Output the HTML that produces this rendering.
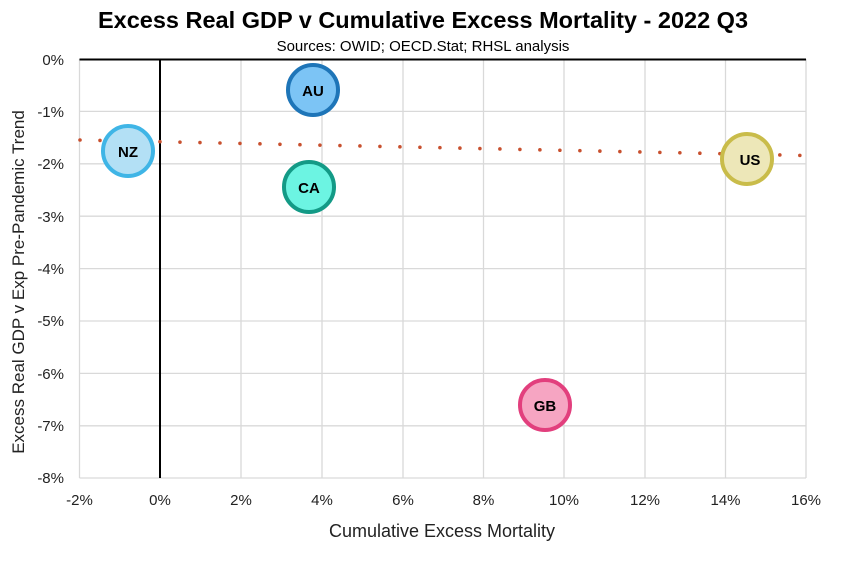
<!DOCTYPE html>
<html><head><meta charset="utf-8"><style>
body{margin:0;background:#fff;}
svg{display:block;font-family:"Liberation Sans",sans-serif;}
</style></head><body>
<svg width="860" height="561" viewBox="0 0 860 561">
<rect width="860" height="561" fill="#fff"/>
<text x="423" y="28" text-anchor="middle" font-size="23.5" font-weight="bold">Excess Real GDP v Cumulative Excess Mortality - 2022 Q3</text>
<text x="423" y="51" text-anchor="middle" font-size="15">Sources: OWID; OECD.Stat; RHSL analysis</text>
<g stroke="#d9d9d9" stroke-width="1.3">
<line x1="79.5" y1="111.4" x2="806" y2="111.4"/><line x1="79.5" y1="163.8" x2="806" y2="163.8"/>
<line x1="79.5" y1="216.2" x2="806" y2="216.2"/><line x1="79.5" y1="268.6" x2="806" y2="268.6"/>
<line x1="79.5" y1="321" x2="806" y2="321"/><line x1="79.5" y1="373.4" x2="806" y2="373.4"/>
<line x1="79.5" y1="425.8" x2="806" y2="425.8"/><line x1="79.5" y1="478" x2="806" y2="478"/>
<line x1="79.5" y1="59" x2="79.5" y2="478"/>
<line x1="241" y1="59" x2="241" y2="478"/><line x1="322" y1="59" x2="322" y2="478"/>
<line x1="403" y1="59" x2="403" y2="478"/><line x1="483.5" y1="59" x2="483.5" y2="478"/>
<line x1="564" y1="59" x2="564" y2="478"/><line x1="645" y1="59" x2="645" y2="478"/>
<line x1="725.5" y1="59" x2="725.5" y2="478"/><line x1="806" y1="59" x2="806" y2="478"/>
</g>
<line x1="79.5" y1="59.5" x2="806" y2="59.5" stroke="#000" stroke-width="2"/>
<line x1="160" y1="59" x2="160" y2="478" stroke="#000" stroke-width="2"/>
<line x1="80" y1="140" x2="806" y2="155.5" stroke="#c8502e" stroke-width="3.6" stroke-linecap="round" stroke-dasharray="0 20"/>
<g font-size="15" fill="#222" text-anchor="end">
<text x="64" y="65">0%</text><text x="64" y="117">-1%</text><text x="64" y="169">-2%</text>
<text x="64" y="222">-3%</text><text x="64" y="274">-4%</text><text x="64" y="326">-5%</text>
<text x="64" y="379">-6%</text><text x="64" y="431">-7%</text><text x="64" y="483">-8%</text>
</g>
<g font-size="15" fill="#222" text-anchor="middle">
<text x="79.5" y="505">-2%</text><text x="160" y="505">0%</text><text x="241" y="505">2%</text>
<text x="322" y="505">4%</text><text x="403" y="505">6%</text><text x="483.5" y="505">8%</text>
<text x="564" y="505">10%</text><text x="645" y="505">12%</text><text x="725.5" y="505">14%</text>
<text x="806" y="505">16%</text>
</g>
<text x="442" y="537" text-anchor="middle" font-size="18" fill="#222">Cumulative Excess Mortality</text>
<text transform="translate(24,282) rotate(-90)" text-anchor="middle" font-size="17" fill="#222">Excess Real GDP v Exp Pre-Pandemic Trend</text>
<g stroke-width="4" font-size="15" font-weight="bold" text-anchor="middle">
<circle cx="313" cy="90" r="25" fill="#7cc4f5" stroke="#1e75b8"/>
<circle cx="128" cy="151" r="25" fill="#b3e0f5" stroke="#3fb5e6"/>
<circle cx="309" cy="187" r="25" fill="#6cf4e2" stroke="#139a86"/>
<circle cx="747" cy="159" r="25" fill="#ede7b8" stroke="#c9bc4a"/>
<circle cx="545" cy="405" r="25" fill="#f6a5c2" stroke="#e23f7d"/>
<text x="313" y="96" stroke="none">AU</text>
<text x="128" y="157" stroke="none">NZ</text>
<text x="309" y="193" stroke="none">CA</text>
<text x="750" y="165" stroke="none">US</text>
<text x="545" y="411" stroke="none">GB</text>
</g>
</svg>
</body></html>
